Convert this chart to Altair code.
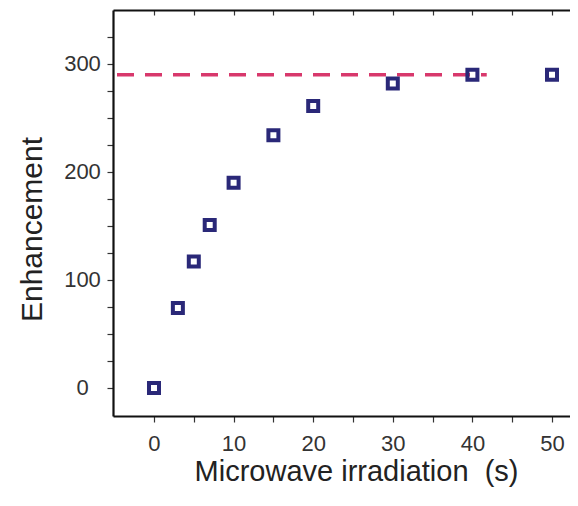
import altair as alt
import pandas as pd

# data
irradiation_s = [0, 3, 5, 7, 10, 15, 20, 30, 40, 50]
enhancement = [0, 74, 117, 151, 190, 234, 261, 282, 290, 290]

plateau_value = [290]
plateau_x_start = [-5.15]
plateau_x_end = [41.8]

x_ticks = [0, 5, 10, 15, 20, 25, 30, 35, 40, 45, 50]
y_ticks = [0, 25, 50, 75, 100, 125, 150, 175, 200, 225, 250, 275, 300, 325]

X_DOMAIN = [-5.15, 52.26]
Y_DOMAIN = [-26, 350]

df = pd.DataFrame({"x": irradiation_s, "y": enhancement})
plateau = pd.DataFrame({"x": plateau_x_start, "x2": plateau_x_end, "y": plateau_value})

FONT = "Liberation Sans"
xs = alt.Scale(domain=X_DOMAIN, nice=False, zero=False)
ys = alt.Scale(domain=Y_DOMAIN, nice=False, zero=False)

bottom_axis = alt.Axis(
    orient="bottom", values=x_ticks,
    labelExpr="datum.value % 10 == 0 ? datum.label : ''",
    grid=False, domain=True, domainColor="#111", domainWidth=2.2,
    ticks=True, tickSize=6, tickColor="#333", tickWidth=1.2,
    labelFont=FONT, labelFontSize=22, labelColor="#333", labelPadding=11,
    title="Microwave irradiation\u00a0 (s)", titleFont=FONT, titleFontSize=29,
    titleFontWeight="normal", titleColor="#222",
    titleX=243, titleY=64, titleAlign="center", titleBaseline="alphabetic",
)
left_axis = alt.Axis(
    orient="left", values=y_ticks,
    labelExpr="datum.value % 100 == 0 ? datum.label : ''",
    grid=False, domain=True, domainColor="#111", domainWidth=2.2,
    ticks=True, tickSize=6, tickColor="#333", tickWidth=1.2,
    labelFont=FONT, labelFontSize=22, labelColor="#333",
    labelAlign="center", labelPadding=25,
    title="Enhancement", titleFont=FONT, titleFontSize=30,
    titleFontWeight="normal", titleColor="#222",
    titleX=-81, titleY=219, titleAlign="center", titleBaseline="middle",
    titleAngle=270,
)
top_ticks_axis = alt.Axis(
    orient="top", values=x_ticks, labels=False, domain=False, grid=False,
    ticks=True, tickSize=5, tickColor="#333", tickWidth=1.2, offset=-5, title=None,
)
top_frame_axis = alt.Axis(
    orient="top", values=[], labels=False, ticks=False, grid=False,
    domain=True, domainColor="#111", domainWidth=2.2, title=None,
)

points = alt.Chart(df).mark_square(
    size=100, filled=False, color="#2a2878", strokeWidth=4, opacity=1
).encode(
    x=alt.X("x:Q", scale=xs, axis=bottom_axis),
    y=alt.Y("y:Q", scale=ys, axis=left_axis),
)

dash = alt.Chart(plateau).mark_rule(
    color="#d8386c", strokeWidth=3.5, strokeDash=[17, 11], strokeDashOffset=-4
).encode(
    x=alt.X("x:Q", scale=xs, axis=None),
    x2="x2:Q",
    y=alt.Y("y:Q", scale=ys, axis=left_axis),
)

top_ticks = alt.Chart(df).mark_point(opacity=0).encode(
    x=alt.X("x:Q", scale=xs, axis=top_ticks_axis),
    y=alt.Y("y:Q", scale=ys, axis=left_axis),
)
top_frame = alt.Chart(df).mark_point(opacity=0).encode(
    x=alt.X("x:Q", scale=xs, axis=top_frame_axis),
    y=alt.Y("y:Q", scale=ys, axis=left_axis),
)

chart = alt.layer(dash, points, top_ticks, top_frame).resolve_axis(
    x="independent"
).properties(
    width=457, height=406,
    autosize=alt.AutoSizeParams(type="none"),
    padding={"left": 105, "top": 2, "right": 0, "bottom": 80},
).configure_view(stroke=None).configure(background="white")

chart.save("out.html", embed_options={"renderer": "svg", "actions": False})
